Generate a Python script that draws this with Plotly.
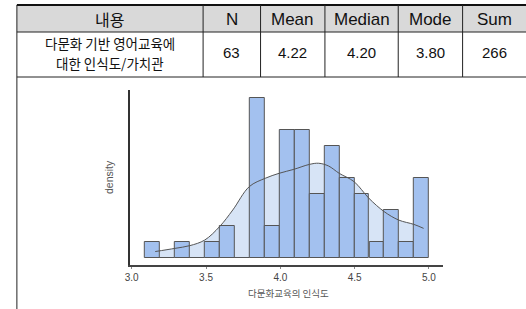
import plotly.graph_objects as go

# ---- table data ----
header_labels = ["내용", "N", "Mean", "Median", "Mode", "Sum"]
row_label_lines = ["다문화 기반 영어교육에", "대한 인식도/가치관"]
row_values = ["63", "4.22", "4.20", "3.80", "266"]

# ---- histogram data ----
bin_centers = [3.141, 3.242, 3.342, 3.443, 3.543, 3.644, 3.744, 3.845, 3.945, 4.046,
               4.146, 4.247, 4.347, 4.448, 4.548, 4.649, 4.749, 4.850, 4.950]
bin_counts = [1, 0, 1, 0, 1, 2, 0, 10, 2, 8, 8, 4, 7, 5, 4, 1, 3, 1, 5]
bin_width = 0.1005

# ---- density curve (scaled to counts) ----
kde_x = [3.158, 3.291, 3.391, 3.491, 3.591, 3.680, 3.791, 3.898, 3.991, 4.091,
         4.196, 4.258, 4.324, 4.396, 4.496, 4.596, 4.698, 4.796, 4.898, 4.964]
kde_y = [0.38, 0.58, 0.75, 1.10, 1.94, 2.98, 4.44, 4.96, 5.27, 5.52,
         5.83, 5.90, 5.73, 5.27, 4.75, 3.71, 2.88, 2.35, 2.08, 1.83]

x_ticks = [3.0, 3.5, 4.0, 4.5, 5.0]
x_title = "다문화교육의 인식도"
y_title = "density"

W, H = 526, 309
def px(x):
    return x / W
def py(y):
    return 1 - y / H

XR = [2.987, 5.091]
YR = [-0.46, 10.48]

fig = go.Figure()
# light density fill (base subplot, below bars)
fig.add_trace(go.Scatter(x=kde_x, y=kde_y, mode="lines", line=dict(width=0, shape="spline"),
                         fill="tozeroy", fillcolor="#d7e4f6", hoverinfo="skip", showlegend=False))
# bars (overlay subplot)
fig.add_trace(go.Bar(x=bin_centers, y=bin_counts, width=bin_width, xaxis="x2", yaxis="y2",
                     marker=dict(color="#a3c1ef", line=dict(color="#555555", width=1)),
                     showlegend=False))
# density line on top
fig.add_trace(go.Scatter(x=kde_x, y=kde_y, mode="lines", xaxis="x2", yaxis="y2",
                         line=dict(color="#555555", width=1, shape="spline"), showlegend=False))

dom_x = [px(126), px(441.7)]
dom_y = [py(265), py(90)]

fig.update_layout(
    width=W, height=H, autosize=False,
    margin=dict(l=0, r=0, t=0, b=0),
    paper_bgcolor="white", plot_bgcolor="white",
    bargap=0,
    xaxis=dict(domain=dom_x, range=XR, tickvals=x_ticks, ticktext=[f"{v:.1f}" for v in x_ticks],
               showgrid=False, zeroline=False, showline=True, linecolor="#444", linewidth=1.5,
               ticks="outside", ticklen=2, tickcolor="#888",
               tickfont=dict(family="Liberation Sans", size=10, color="#444")),
    yaxis=dict(domain=dom_y, range=YR, showticklabels=False, ticks="", showgrid=False,
               zeroline=False, showline=True, linecolor="#333", linewidth=2),
    xaxis2=dict(overlaying="x", range=XR, visible=False),
    yaxis2=dict(overlaying="y", range=YR, visible=False),
)

# ---- table drawing ----
col_edges = [12, 200, 258, 323, 397, 462, 530]
row_top, row_mid, row_bot = 5, 32, 77
shapes = []
shapes.append(dict(type="rect", xref="paper", yref="paper", x0=px(12), x1=px(530),
                   y0=py(row_mid), y1=py(row_top), fillcolor="#d9d9d9", line=dict(width=0), layer="below"))
shapes.append(dict(type="line", xref="paper", yref="paper", x0=px(12), x1=px(530),
                   y0=py(row_top), y1=py(row_top), line=dict(color="#111", width=2)))
for yy in (row_mid, row_bot):
    shapes.append(dict(type="line", xref="paper", yref="paper", x0=px(12), x1=px(530),
                       y0=py(yy), y1=py(yy), line=dict(color="#222", width=1)))
shapes.append(dict(type="line", xref="paper", yref="paper", x0=px(12), x1=px(12),
                   y0=py(row_top), y1=py(312), line=dict(color="#222", width=1)))
for xx in col_edges[1:-1]:
    shapes.append(dict(type="line", xref="paper", yref="paper", x0=px(xx), x1=px(xx),
                       y0=py(row_top), y1=py(row_bot), line=dict(color="#222", width=1)))
fig.update_layout(shapes=shapes)

ann = []
font_lat = "Liberation Sans, Noto Sans CJK KR"
font_kr = "Noto Sans CJK KR, Liberation Sans"
def col_center(i):
    return (col_edges[i] + col_edges[i + 1]) / 2 if i < 5 else (462 + 526) / 2

for i, lab in enumerate(header_labels):
    ann.append(dict(text=lab, x=px(col_center(i)), y=py(19), xref="paper", yref="paper", showarrow=False,
                    xanchor="center", yanchor="middle",
                    font=dict(family=font_kr if i == 0 else font_lat, size=16 if i == 0 else 17, color="#111")))
for k, line in enumerate(row_label_lines):
    ann.append(dict(text=line, x=px(col_center(0)), y=py(43 + 20 * k), xref="paper", yref="paper",
                    showarrow=False, xanchor="center", yanchor="middle",
                    font=dict(family=font_kr, size=13.5, color="#111")))
for i, lab in enumerate(row_values, start=1):
    ann.append(dict(text=lab, x=px(col_center(i)), y=py(53), xref="paper", yref="paper", showarrow=False,
                    xanchor="center", yanchor="middle",
                    font=dict(family=font_lat, size=15, color="#111")))
ann.append(dict(text=x_title, x=px(286), y=py(293), xref="paper", yref="paper", showarrow=False,
                xanchor="center", yanchor="middle",
                font=dict(family="Noto Sans CJK KR", size=9.5, color="#555")))
ann.append(dict(text=y_title, x=px(105), y=py(177), xref="paper", yref="paper", showarrow=False,
                xanchor="center", yanchor="middle", textangle=-90,
                font=dict(family="Liberation Sans Narrow, Liberation Sans", size=10.5, color="#555")))
fig.update_layout(annotations=ann)

fig.write_html("out.html", config={"displayModeBar": False},
               post_script="document.body.style.margin='0px';document.body.style.overflow='hidden';")
